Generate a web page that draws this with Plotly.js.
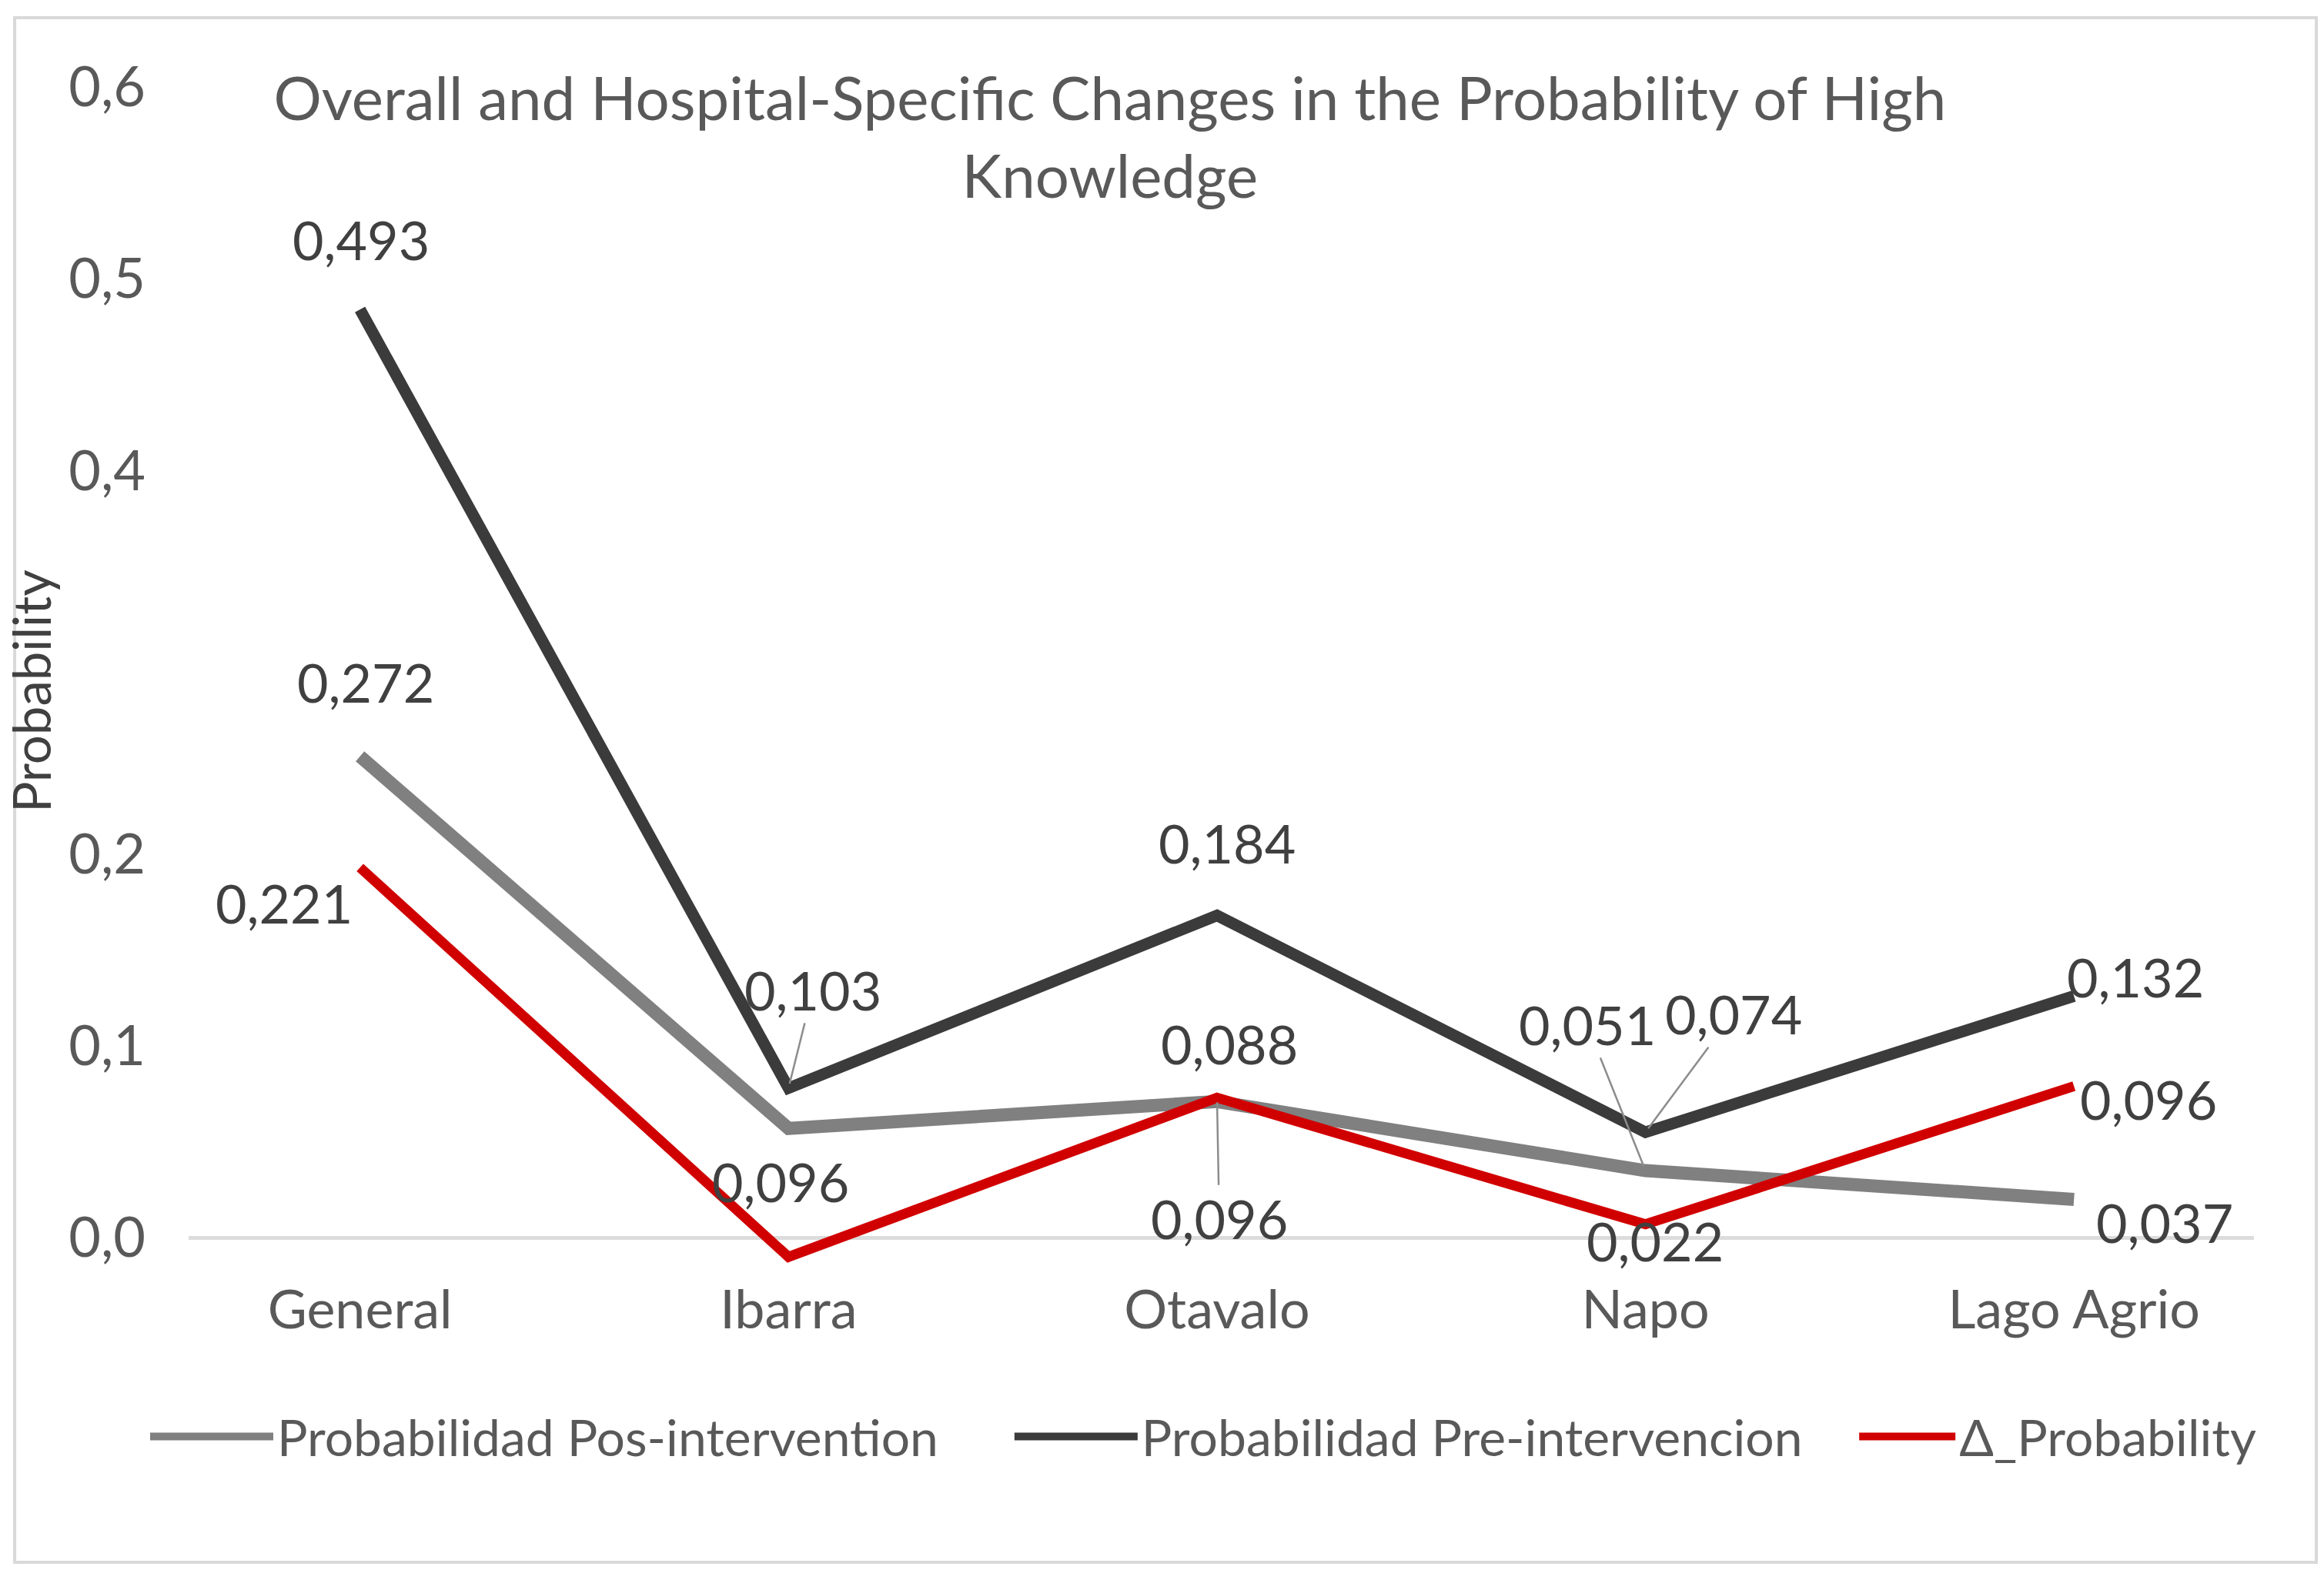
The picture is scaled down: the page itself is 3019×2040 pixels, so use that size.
<!DOCTYPE html>
<html>
<head>
<meta charset="utf-8">
<script src="https://cdn.plot.ly/plotly-3.0.1.min.js"></script>
<style>
  html, body { margin: 0; padding: 0; background: #ffffff; }
  #chart { width: 3019px; height: 2040px; }
</style>
</head>
<body>
<div id="chart"></div>
<script>
// ---- data ----
const categories = ['General', 'Ibarra', 'Otavalo', 'Napo', 'Lago Agrio'];

const seriesNames = ['Probabilidad Pos-intervention', 'Probabilidad Pre-intervencion', '\u0394_Probability'];

// line values as drawn against the 0,0 – 0,6 axis
const posValues   = [0.251, 0.057, 0.071, 0.035, 0.020];
const preValues   = [0.484, 0.078, 0.168, 0.055, 0.126];
const deltaValues = [0.193, -0.010, 0.073, 0.007, 0.079];

// data-label texts printed on the chart ('' = no label shown)
const posLabels   = ['0,272', '0,096', '0,088', '0,051', '0,037'];
const preLabels   = ['0,493', '0,103', '0,184', '0,074', '0,132'];
const deltaLabels = ['0,221', '', '0,096', '0,022', '0,096'];

const yTickValues = [0, 0.1, 0.2, 0.4, 0.5, 0.6];

// ---- styling / placement ----
const FONT = 'Lato, "Liberation Sans", Arial, sans-serif';
const TEXT = '#595959';
const colors = ['#808080', '#3b3b3b', '#d10000'];
const widths = [17, 15, 13];
const legendIds = ['legend', 'legend2', 'legend3'];
const legendX = [-0.0205, 0.398, 0.807];
const legendItemWidth = [160, 160, 125];

// pixel offsets of each data label from its point [ax, ay, leader?]
const posOffsets   = [[7, -97, 0], [-10, 69, 0], [16, -75, 0], [-76, -190, 1], [118, 30, 0]];
const preOffsets   = [[1, -91, 0], [32, -128, 1], [13, -95, 0], [114, -154, 1], [80, -25, 0]];
const deltaOffsets = [[-99, 46, 0], [0, 0, 0], [3, 157, 1], [12, 21, 0], [97, 17, 0]];

const allValues  = [posValues, preValues, deltaValues];
const allLabels  = [posLabels, preLabels, deltaLabels];
const allOffsets = [posOffsets, preOffsets, deltaOffsets];

const traces = allValues.map((vals, s) => ({
  type: 'scatter',
  mode: 'lines',
  x: categories,
  y: vals,
  name: seriesNames[s],
  legend: legendIds[s],
  line: { color: colors[s], width: widths[s] },
  hoverinfo: 'skip'
}));

const annotations = [];
allLabels.forEach((labels, s) => {
  labels.forEach((txt, i) => {
    if (!txt) return;
    const off = allOffsets[s][i];
    annotations.push({
      x: categories[i], y: allValues[s][i], xref: 'x', yref: 'y',
      text: txt,
      showarrow: true,
      ax: off[0], ay: off[1],
      arrowhead: 0, arrowwidth: 2.5,
      arrowcolor: off[2] ? '#8c8c8c' : 'rgba(0,0,0,0)',
      standoff: 6,
      font: { family: FONT, size: 70, color: '#404040' }
    });
  });
});

const layout = {
  width: 3019, height: 2040,
  paper_bgcolor: '#ffffff', plot_bgcolor: '#ffffff',
  separators: ',.',
  margin: { l: 245, r: 91, t: 113, b: 357, pad: 0 },
  font: { family: FONT, color: TEXT },
  title: {
    text: 'Overall and Hospital-Specific Changes in the Probability of High<br>Knowledge',
    font: { family: FONT, size: 78, color: TEXT },
    x: 0.4776, xref: 'container', xanchor: 'center',
    y: 1 - 156 / 2040, yref: 'container', yanchor: 'middle'
  },
  showlegend: true,
  xaxis: {
    type: 'category',
    range: [-0.4, 4.42],
    showgrid: false, zeroline: false, showline: false,
    ticks: '',
    tickfont: { family: FONT, size: 70, color: TEXT },
    ticklabelstandoff: -28,
    fixedrange: true
  },
  yaxis: {
    range: [-0.03, 0.6],
    tickvals: yTickValues,
    tickformat: '.1f',
    showgrid: false,
    zeroline: true, zerolinecolor: '#dcdcdc', zerolinewidth: 5,
    showline: false, ticks: '',
    tickfont: { family: FONT, size: 72, color: TEXT },
    ticklabelstandoff: 55,
    title: { text: 'Probability', font: { family: FONT, size: 67, color: '#404040' }, standoff: 20 },
    fixedrange: true
  },
  shapes: [{
    type: 'rect', xref: 'paper', yref: 'paper',
    x0: -0.0842, x1: 1.0302, y0: -0.221, y1: 1.0573,
    line: { color: '#d9d9d9', width: 4 }, fillcolor: 'rgba(0,0,0,0)', layer: 'below'
  }],
  annotations: annotations
};

legendIds.forEach((id, s) => {
  layout[id] = {
    orientation: 'h',
    x: legendX[s], xanchor: 'left',
    y: -0.117, yanchor: 'middle',
    font: { family: FONT, size: 66, color: TEXT },
    itemwidth: legendItemWidth[s],
    bgcolor: 'rgba(0,0,0,0)'
  };
});

Plotly.newPlot('chart', traces, layout, { displayModeBar: false, staticPlot: true });
</script>
</body>
</html>
